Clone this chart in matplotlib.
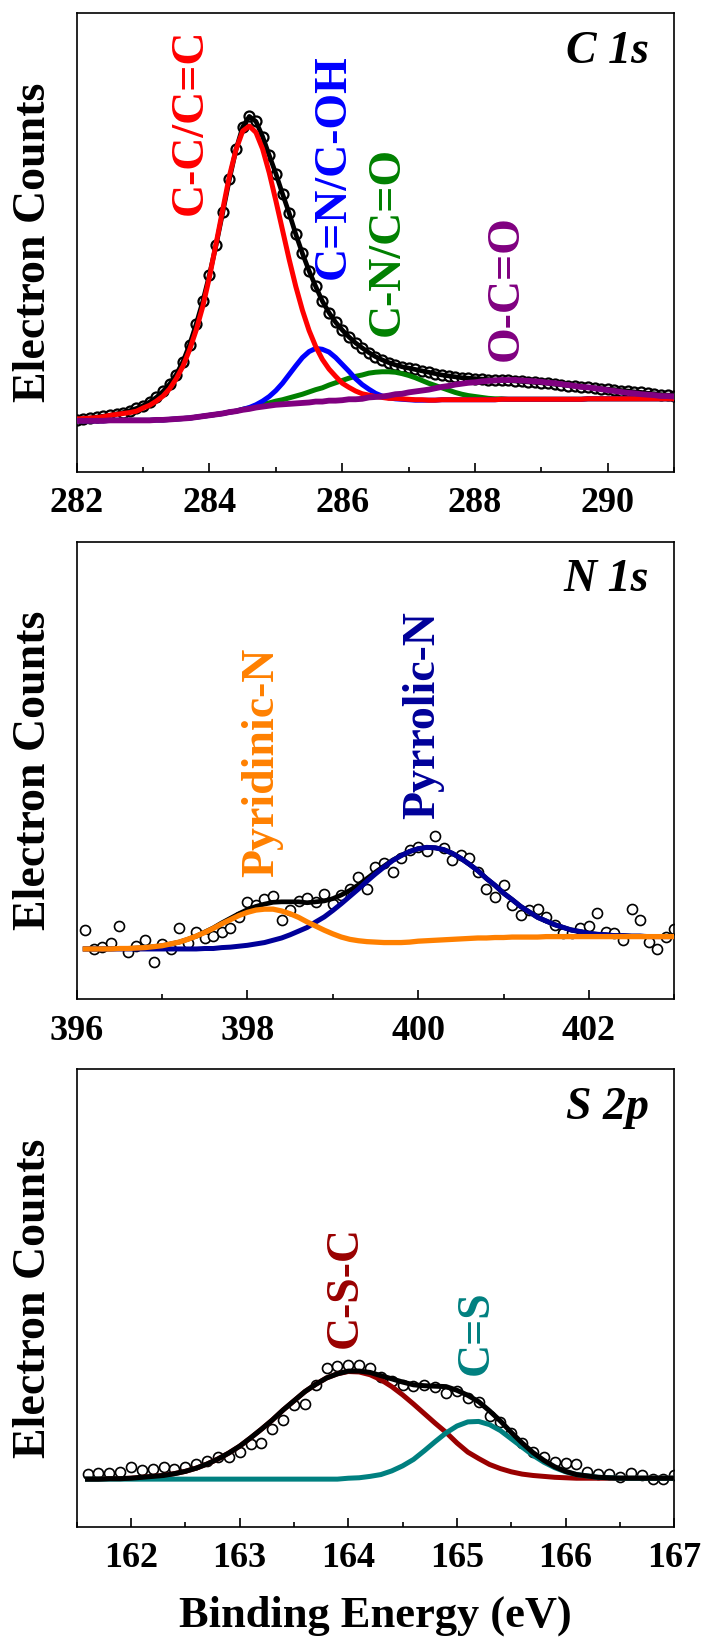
import numpy as np
import matplotlib
matplotlib.use('Agg')
import matplotlib.pyplot as plt
from matplotlib.ticker import MultipleLocator

plt.rcParams['font.family'] = ['Liberation Serif', 'DejaVu Serif']
plt.rcParams['font.weight'] = 'bold'
plt.rcParams['axes.labelweight'] = 'bold'

# ---------------- C 1s (0.1 eV step) ----------------
be_c1s = np.round(282.0 + 0.1 * np.arange(91), 1)
counts_c1s = [0.113, 0.115, 0.117, 0.119, 0.121, 0.123, 0.126, 0.129, 0.133, 0.138,
              0.144, 0.152, 0.162, 0.175, 0.191, 0.212, 0.240, 0.277, 0.322, 0.372,
              0.430, 0.495, 0.566, 0.638, 0.703, 0.752, 0.775, 0.764, 0.731, 0.690,
              0.650, 0.606, 0.564, 0.518, 0.476, 0.438, 0.404, 0.372, 0.347, 0.326,
              0.309, 0.294, 0.281, 0.270, 0.260, 0.251, 0.244, 0.238, 0.233, 0.229,
              0.226, 0.223, 0.220, 0.217, 0.214, 0.211, 0.209, 0.207, 0.205, 0.204,
              0.203, 0.202, 0.201, 0.200, 0.200, 0.199, 0.198, 0.197, 0.196, 0.195,
              0.194, 0.193, 0.191, 0.190, 0.188, 0.187, 0.185, 0.184, 0.183, 0.181,
              0.180, 0.179, 0.177, 0.176, 0.174, 0.173, 0.171, 0.170, 0.168, 0.167,
              0.166]
bg_c1s = [0.111, 0.111, 0.111, 0.111, 0.111, 0.112, 0.112, 0.112, 0.112, 0.112,
          0.112, 0.112, 0.113, 0.113, 0.114, 0.115, 0.116, 0.117, 0.119, 0.121,
          0.123, 0.125, 0.127, 0.130, 0.132, 0.135, 0.137, 0.140, 0.142, 0.144,
          0.146, 0.147, 0.148, 0.149, 0.150, 0.151, 0.152, 0.152, 0.153, 0.153,
          0.153, 0.154, 0.154, 0.154, 0.155, 0.155, 0.155, 0.155, 0.156, 0.156,
          0.156, 0.156, 0.156, 0.156, 0.156, 0.157, 0.157, 0.157, 0.157, 0.157,
          0.157, 0.157, 0.157, 0.157, 0.158, 0.158, 0.158, 0.158, 0.158, 0.158,
          0.158, 0.158, 0.158, 0.158, 0.158, 0.158, 0.158, 0.159, 0.159, 0.159,
          0.159, 0.159, 0.159, 0.159, 0.159, 0.159, 0.159, 0.159, 0.159, 0.159,
          0.159]
cc_c1s = [0.004, 0.005, 0.006, 0.007, 0.009, 0.011, 0.013, 0.015, 0.017, 0.020,
          0.027, 0.033, 0.041, 0.052, 0.067, 0.088, 0.114, 0.149, 0.190, 0.240,
          0.302, 0.373, 0.445, 0.515, 0.571, 0.608, 0.617, 0.600, 0.562, 0.508,
          0.445, 0.380, 0.315, 0.255, 0.202, 0.157, 0.121, 0.093, 0.071, 0.055,
          0.040, 0.030, 0.022, 0.016, 0.012, 0.009, 0.007, 0.005, 0.004, 0.003,
          0.002, 0.001, 0.001] + [0.0] * 38
cn_c1s = [0.0] * 25 + [0.001, 0.003, 0.006, 0.012, 0.020,
                       0.031, 0.046, 0.064, 0.082, 0.099, 0.111, 0.117, 0.115, 0.108, 0.096,
                       0.081, 0.065, 0.049, 0.036, 0.025, 0.016, 0.010, 0.006, 0.003, 0.002,
                       0.001] + [0.0] * 40
cno_c1s = [0.0] * 25 + [0.001, 0.002, 0.003, 0.005, 0.006,
                        0.008, 0.010, 0.013, 0.016, 0.019, 0.023, 0.027, 0.031, 0.036, 0.041,
                        0.046, 0.050, 0.054, 0.057, 0.060, 0.062, 0.063, 0.063, 0.061, 0.058,
                        0.054, 0.049, 0.043, 0.037, 0.032, 0.026, 0.021, 0.016, 0.012, 0.009,
                        0.007, 0.005, 0.003, 0.002, 0.001] + [0.0] * 26
oco_c1s = [0.0] * 36 + [0.001, 0.001, 0.002, 0.002,
                        0.003, 0.004, 0.004, 0.005, 0.007, 0.008, 0.009, 0.011, 0.013, 0.014,
                        0.017, 0.019, 0.021, 0.023, 0.026, 0.028, 0.030, 0.033, 0.035, 0.037,
                        0.038, 0.040, 0.041, 0.042, 0.042, 0.042, 0.042, 0.041, 0.040, 0.039,
                        0.038, 0.036, 0.035, 0.033, 0.031, 0.029, 0.027, 0.025, 0.023, 0.021,
                        0.019, 0.017, 0.015, 0.013, 0.012, 0.010, 0.009, 0.008, 0.006, 0.006,
                        0.005]

# ---------------- N 1s ----------------
be_n1s = np.round(396.1 + 0.1 * np.arange(70), 1)
counts_n1s = [0.151, 0.111, 0.115, 0.122, 0.161, 0.104, 0.117, 0.130, 0.082, 0.121,
              0.109, 0.155, 0.122, 0.146, 0.133, 0.139, 0.148, 0.155, 0.180, 0.213,
              0.206, 0.219, 0.226, 0.173, 0.195, 0.215, 0.221, 0.213, 0.230, 0.208,
              0.228, 0.242, 0.267, 0.240, 0.290, 0.297, 0.279, 0.308, 0.326, 0.332,
              0.323, 0.356, 0.330, 0.305, 0.316, 0.308, 0.279, 0.242, 0.223, 0.250,
              0.206, 0.184, 0.195, 0.197, 0.180, 0.162, 0.144, 0.145, 0.155, 0.160,
              0.188, 0.146, 0.144, 0.130, 0.197, 0.173, 0.126, 0.111, 0.137, 0.153]
bg_n1s = [0.110] * 15 + [0.110, 0.111, 0.111, 0.112,
                         0.112, 0.113, 0.113, 0.114, 0.114, 0.115, 0.115, 0.115, 0.116, 0.116,
                         0.117, 0.117, 0.118, 0.119, 0.120, 0.121, 0.122, 0.123, 0.124, 0.125,
                         0.127, 0.128, 0.129, 0.130, 0.131, 0.132, 0.133, 0.134, 0.134, 0.135,
                         0.135, 0.136, 0.136, 0.136, 0.136, 0.137, 0.137, 0.137, 0.137, 0.137] + [0.137] * 11
pyridinic = [0.0, 0.0, 0.0, 0.0, 0.001, 0.001, 0.002, 0.003, 0.005,
             0.007, 0.011, 0.015, 0.021, 0.028, 0.036, 0.045, 0.054, 0.063, 0.071,
             0.078, 0.082, 0.084, 0.083, 0.079, 0.072, 0.064, 0.054, 0.044, 0.035,
             0.026, 0.019, 0.013, 0.009, 0.006, 0.004, 0.002, 0.001, 0.0, 0.0] + [0.0] * 31
pyrrolic = [0.0] * 14 + [0.001, 0.001, 0.002, 0.003, 0.004,
                         0.006, 0.008, 0.011, 0.015, 0.020, 0.026, 0.034, 0.042, 0.053, 0.064,
                         0.077, 0.092, 0.107, 0.122, 0.138, 0.153, 0.167, 0.180, 0.190, 0.198,
                         0.202, 0.204, 0.202, 0.197, 0.188, 0.176, 0.162, 0.147, 0.130, 0.114,
                         0.097, 0.082, 0.067, 0.055, 0.043, 0.034, 0.026, 0.020, 0.014, 0.011,
                         0.007, 0.005, 0.004, 0.002, 0.002, 0.001, 0.001, 0.0, 0.0, 0.0, 0.0]

# ---------------- S 2p ----------------
be_s2p = np.round(161.6 + 0.1 * np.arange(55), 1)
counts_s2p = [0.117, 0.119, 0.119, 0.121, 0.131, 0.125, 0.127, 0.131, 0.127, 0.131,
              0.137, 0.145, 0.153, 0.153, 0.165, 0.181, 0.185, 0.214, 0.234, 0.266,
              0.268, 0.310, 0.347, 0.351, 0.355, 0.355, 0.347, 0.327, 0.319, 0.310,
              0.309, 0.310, 0.306, 0.294, 0.298, 0.282, 0.274, 0.242, 0.230, 0.206,
              0.185, 0.165, 0.153, 0.143, 0.141, 0.137, 0.121, 0.117, 0.117, 0.110,
              0.119, 0.113, 0.105, 0.105, 0.115]
bg_s2p = [0.105] * 24 + [0.106] * 12 + [0.107] * 19
csc = [0.0, 0.0, 0.001, 0.001,
       0.002, 0.004, 0.006, 0.008, 0.012, 0.017, 0.024, 0.033, 0.044, 0.057,
       0.072, 0.090, 0.109, 0.129, 0.151, 0.171, 0.191, 0.207, 0.221, 0.230,
       0.234, 0.233, 0.227, 0.216, 0.201, 0.183, 0.163, 0.142, 0.121, 0.101,
       0.078, 0.058, 0.043, 0.030, 0.021, 0.014, 0.009, 0.006, 0.004, 0.002,
       0.001] + [0.0] * 10
cs = [0.0] * 24 + [0.001, 0.002, 0.005, 0.009, 0.017, 0.028, 0.042, 0.061, 0.081, 0.100,
                   0.115, 0.124, 0.124, 0.117, 0.104, 0.086, 0.068, 0.050, 0.035, 0.023,
                   0.014, 0.008, 0.005, 0.002, 0.001] + [0.0] * 6

fig = plt.figure(figsize=(7.03, 16.39), dpi=100)
ax1 = fig.add_axes([0.1091, 0.7122, 0.850, 0.2797])
ax2 = fig.add_axes([0.1091, 0.3903, 0.850, 0.2792])
ax3 = fig.add_axes([0.1091, 0.0682, 0.850, 0.2794])


def style(ax, xlim, major, minor, title):
    ax.set_xlim(*xlim)
    ax.set_ylim(0, 1)
    ax.set_yticks([])
    ax.xaxis.set_major_locator(MultipleLocator(major))
    ax.xaxis.set_minor_locator(MultipleLocator(minor))
    ax.tick_params(axis='x', which='major', direction='in', length=6.5, width=1.2,
                   labelsize=26, pad=11)
    ax.tick_params(axis='x', which='minor', direction='in', length=3.3, width=1.2)
    for s in ax.spines.values():
        s.set_linewidth(1.2)
    ax.set_ylabel('Electron Counts', fontsize=33, fontweight='bold')
    ax.yaxis.set_label_coords(-0.036, 0.5)
    ax.text(0.957, 0.892, title, transform=ax.transAxes, ha='right', va='baseline',
            fontsize=33, style='italic', fontweight='bold')


def label(ax, x, y, s, c):
    ax.text(x, y, s, rotation=90, ha='center', va='bottom', color=c,
            fontsize=33, fontweight='bold')


mk = dict(marker='o', ls='none', ms=7.2, mfc='white', mec='k', mew=1.2)

# C 1s
bg = np.array(bg_c1s)
ax1.plot(be_c1s, counts_c1s, zorder=2, **dict(mk, mew=1.6))
ax1.plot(be_c1s, counts_c1s, color='k', lw=3.4, zorder=3)
ax1.plot(be_c1s, bg + np.array(cc_c1s), color='#FF0000', lw=3.6, zorder=6)
ax1.plot(be_c1s, bg + np.array(cn_c1s), color='#0000FF', lw=3.6, zorder=5)
ax1.plot(be_c1s, bg + np.array(cno_c1s), color='#008000', lw=3.6, zorder=4)
ax1.plot(be_c1s, bg + np.array(oco_c1s), color='#800080', lw=4.2, zorder=7)
style(ax1, (282, 291), 2, 1, 'C 1s')
label(ax1, 283.72, 0.560, 'C-C/C=C', '#FF0000')
label(ax1, 285.87, 0.420, 'C=N/C-OH', '#0000FF')
label(ax1, 286.68, 0.296, 'C-N/C=O', '#008000')
label(ax1, 288.48, 0.242, 'O-C=O', '#800080')

# N 1s
bg = np.array(bg_n1s)
fit_n1s = bg + np.array(pyridinic) + np.array(pyrrolic)
ax2.plot(be_n1s, counts_n1s, zorder=2, **mk)
ax2.plot(be_n1s, fit_n1s, color='k', lw=3.4, zorder=3)
ax2.plot(be_n1s, bg + np.array(pyrrolic), color='#000099', lw=3.6, zorder=4)
ax2.plot(be_n1s, bg + np.array(pyridinic), color='#FF8000', lw=3.8, zorder=5)
style(ax2, (396, 403), 2, 1, 'N 1s')
label(ax2, 398.17, 0.268, 'Pyridinic-N', '#FF8000')
label(ax2, 400.06, 0.395, 'Pyrrolic-N', '#000099')

# S 2p
bg = np.array(bg_s2p)
fit_s2p = bg + np.array(csc) + np.array(cs)
ax3.plot(be_s2p, counts_s2p, zorder=2, **mk)
ax3.plot(be_s2p, bg + np.array(csc), color='#990000', lw=3.6, zorder=3)
ax3.plot(be_s2p, bg + np.array(cs), color='#008080', lw=3.6, zorder=4)
ax3.plot(be_s2p, fit_s2p, color='k', lw=3.6, zorder=5)
style(ax3, (161.5, 167), 1, 0.5, 'S 2p')
label(ax3, 163.98, 0.392, 'C-S-C', '#990000')
label(ax3, 165.18, 0.332, 'C=S', '#008080')
ax3.set_xlabel('Binding Energy (eV)', fontsize=32, fontweight='bold', va='top')
ax3.xaxis.set_label_coords(0.5, -0.150)

plt.savefig('out.png', dpi=100)
plt.close()
